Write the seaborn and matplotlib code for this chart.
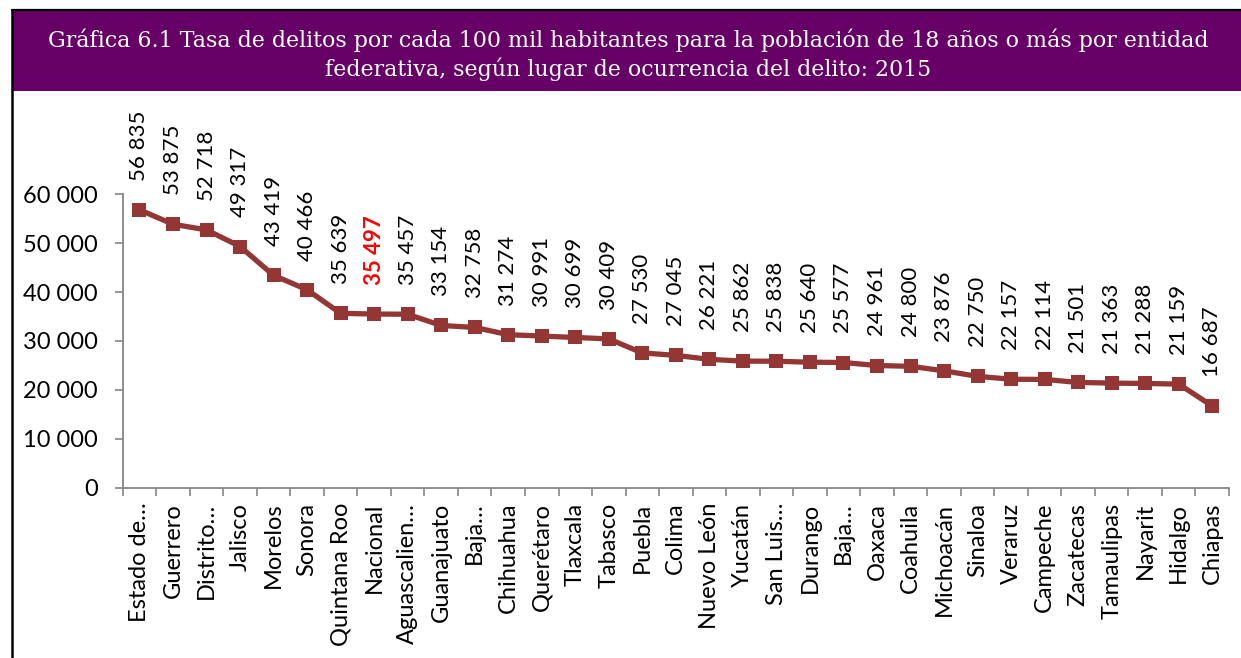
import numpy as np
import matplotlib.pyplot as plt
import seaborn as sns
from matplotlib.lines import Line2D
from matplotlib.patches import Rectangle
from matplotlib.ticker import FuncFormatter, FixedLocator

# Data
entidades = [
    'Estado de…', 'Guerrero', 'Distrito…', 'Jalisco', 'Morelos', 'Sonora',
    'Quintana Roo', 'Nacional', 'Aguascalien…', 'Guanajuato', 'Baja…',
    'Chihuahua', 'Querétaro', 'Tlaxcala', 'Tabasco', 'Puebla', 'Colima',
    'Nuevo León', 'Yucatán', 'San Luis…', 'Durango', 'Baja…', 'Oaxaca',
    'Coahuila', 'Michoacán', 'Sinaloa', 'Veraruz', 'Campeche', 'Zacatecas',
    'Tamaulipas', 'Nayarit', 'Hidalgo', 'Chiapas']
tasas = [
    56835, 53875, 52718, 49317, 43419, 40466, 35639, 35497, 35457, 33154,
    32758, 31274, 30991, 30699, 30409, 27530, 27045, 26221, 25862, 25838,
    25640, 25577, 24961, 24800, 23876, 22750, 22157, 22114, 21501, 21363,
    21288, 21159, 16687]
y_ticks = [0, 10000, 20000, 30000, 40000, 50000, 60000]
destacado = 'Nacional'

title = ('Gráfica 6.1 Tasa de delitos por cada 100 mil habitantes para la población de 18 años o más por entidad\n'
         'federativa, según lugar de ocurrencia del delito: 2015')

line_color = '#943634'
axis_color = '#868686'
banner_color = '#660066'


def miles(v, pos=None):
    return f'{int(v):,}'.replace(',', ' ')


sns.set_theme(style='white')
plt.rcParams['font.family'] = ['Lato', 'DejaVu Sans']

W, H = 1241, 658
fig = plt.figure(figsize=(W / 100, H / 100), dpi=100)

# Title banner and frame
fig.add_artist(Rectangle((12 / W, 1 - 91 / H), 1 - 12 / W, 81 / H,
                         transform=fig.transFigure, facecolor=banner_color,
                         edgecolor='none', zorder=0))
fig.add_artist(Line2D([11.5 / W, 1], [1 - 9.5 / H] * 2, transform=fig.transFigure,
                      color='black', lw=1.6))
fig.add_artist(Line2D([11.5 / W] * 2, [0, 1 - 9.5 / H], transform=fig.transFigure,
                      color='black', lw=1.8))
fig.text(628 / W, 1 - 55 / H, title, ha='center', va='center', color='white',
         fontsize=15.9, family=['DejaVu Serif'], linespacing=1.3)

ax = fig.add_axes([122.7 / W, 1 - 487.5 / H, (1229 - 122.7) / W, (487.5 - 194.3) / H])

# one position per row: two rows share the truncated label "Baja…"
pos = np.arange(len(entidades))
sns.lineplot(x=pos, y=tasas, ax=ax, color=line_color, marker='s',
             markersize=10.5, markeredgewidth=0, linewidth=3.8)

n = len(entidades)
ax.set_xlim(-0.5, n - 0.5)
ax.set_ylim(0, 60000)
ax.yaxis.set_major_locator(FixedLocator(y_ticks))
ax.yaxis.set_major_formatter(FuncFormatter(miles))

# category boundaries as tick marks
ax.set_xticks(pos)
ax.set_xticklabels(entidades, rotation=90, fontsize=17, color='black')
ax.set_xticks(np.arange(n + 1) - 0.5, minor=True)
ax.tick_params(axis='x', which='major', length=0, pad=11, bottom=True)
ax.tick_params(axis='x', which='minor', length=6, width=1.2, color=axis_color,
               direction='out', bottom=True)
ax.tick_params(axis='y', length=6, width=1.2, color=axis_color, direction='out',
               labelsize=17, labelcolor='black', pad=12, left=True)

for side in ['top', 'right']:
    ax.spines[side].set_visible(False)
for side in ['left', 'bottom']:
    ax.spines[side].set_color(axis_color)
    ax.spines[side].set_linewidth(1.3)

# rotated value labels above each point, national figure highlighted
for i, (name, v) in enumerate(zip(entidades, tasas)):
    hl = name == destacado
    ax.annotate(miles(v), (i, v), xytext=(0, 21), textcoords='offset points',
                rotation=90, ha='center', va='bottom', fontsize=16,
                color='#FF0000' if hl else 'black',
                fontweight='bold' if hl else 'normal', annotation_clip=False)

ax.set_xlabel('')
ax.set_ylabel('')
ax.grid(False)

fig.savefig('out.png', dpi=100, facecolor='white')
